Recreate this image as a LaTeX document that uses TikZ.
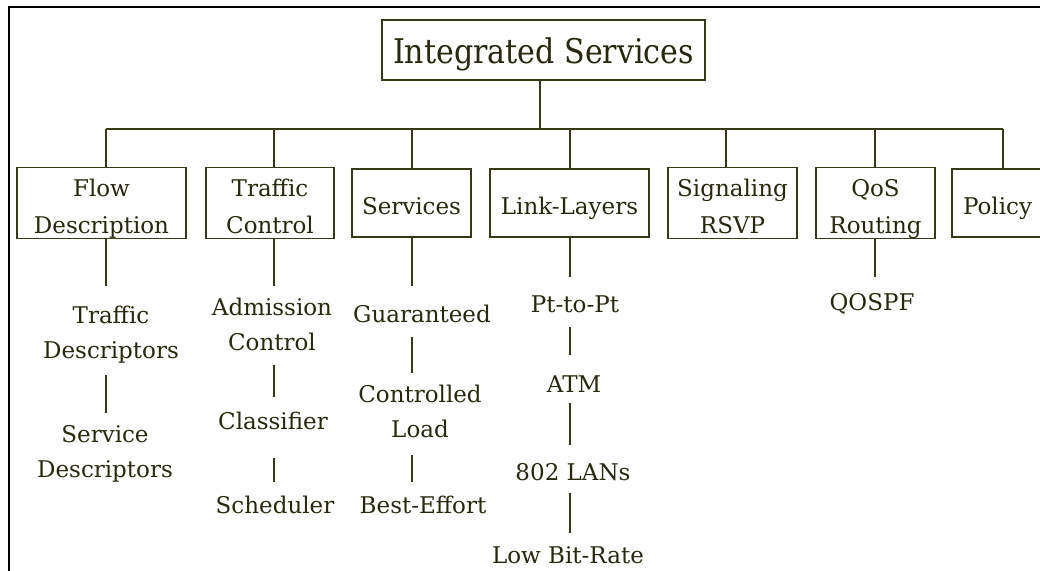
\documentclass[tikz,border=0pt]{standalone}
\usepackage{fontspec}
\setmainfont{DejaVu Serif}
\newfontfamily\titlefont[FakeStretch=0.885]{DejaVu Serif}
\definecolor{ink}{RGB}{40,40,15}
\definecolor{edgec}{RGB}{55,55,25}
% struts that fix the height/depth of text lines
\newcommand\linestrut{\rule[-5.5pt]{0pt}{23pt}}
\newcommand\boxstrut{\rule[-5.5pt]{0pt}{34pt}}

\begin{document}
\begin{tikzpicture}[x=1pt,y=-1pt,
  every node/.style={text=ink},
  topbox/.style={draw=edgec, line width=1.6pt, fill=white, inner sep=0pt,
    minimum width=323pt, minimum height=60pt,
    font=\titlefont\fontsize{34}{40}\selectfont, text height=26pt, text depth=0pt},
  catbox/.style={draw=edgec, line width=1.6pt, fill=white, inner sep=0pt,
    minimum height=68pt, align=center, font=\fontsize{23}{37}\selectfont},
  item/.style={anchor=north, inner sep=0pt, align=center,
    font=\fontsize{23}{35}\selectfont},
  link/.style={draw=edgec, line width=1.6pt},
]
\useasboundingbox (0,0) rectangle (1040,570);
\clip (0,0) rectangle (1040,570);

% frame
\draw[black, line width=2.5pt] (9,575) -- (9,7) -- (1045,7);

% root and the bus junctions
\coordinate (kroot) at (540,129);
\coordinate (kfd) at (106,129);
\coordinate (ktc) at (274,129);
\coordinate (ksv) at (412,129);
\coordinate (kll) at (570,129);
\coordinate (ksg) at (726,129);
\coordinate (kqr) at (875,129);
\coordinate (kpo) at (1003,129);

\node[topbox] (root) at (543.5,50) {Integrated Services};

% category boxes
\node[catbox, minimum width=169pt] (fd) at (101.5,203) {\boxstrut Flow\\Description\boxstrut};
\node[catbox, minimum width=128pt] (tc) at (270,203) {\boxstrut Traffic\\Control\boxstrut};
\node[catbox, minimum width=119pt] (sv) at (411.5,203) {\boxstrut Services};
\node[catbox, minimum width=159pt] (ll) at (569.5,203) {\boxstrut Link-Layers};
\node[catbox, minimum width=129pt] (sg) at (732.5,203) {\boxstrut Signaling\\RSVP\boxstrut};
\node[catbox, minimum width=119pt] (qr) at (875.5,203) {\boxstrut QoS\\Routing\boxstrut};
\node[catbox, minimum width=91pt] (po) at (997.5,203) {\boxstrut Policy};

% sub-items
\node[item] (td) at (111,305.5) {\linestrut Traffic\\Descriptors\linestrut};
\node[item] (sd) at (105,424.5) {\linestrut Service\\Descriptors\linestrut};
\node[item] (ac) at (272,297.5) {\linestrut Admission\\Control\linestrut};
\node[item] (cl) at (273,411.5) {\linestrut Classifier};
\node[item] (sc) at (275,495.5) {\linestrut Scheduler};
\node[item] (gu) at (422,304.5) {\linestrut Guaranteed};
\node[item] (cload) at (420,384.5) {\linestrut Controlled\\Load\linestrut};
\node[item] (be) at (423,495.5) {\linestrut Best-Effort};
\node[item] (pp) at (575,294.5) {\linestrut Pt-to-Pt};
\node[item] (atm) at (574,374.5) {\linestrut ATM};
\node[item] (lan) at (573,462.5) {\linestrut 802 LANs};
\node[item] (lbr) at (568,545.5) {\linestrut Low Bit-Rate};
\node[item] (qo) at (872,292.5) {\linestrut QOSPF};

% tree connectors
\draw[link] (root.south -| kroot) -- (kroot);
\draw[link] (kfd) -- (kpo);
\foreach \k/\b in {kfd/fd, ktc/tc, ksv/sv, kll/ll, ksg/sg, kqr/qr, kpo/po}
  \draw[link] (\k) -- (\k |- \b.north);

% Flow Description column
\draw[link, shorten >=19.5pt] (fd.south -| kfd) -- (td.north -| kfd);
\draw[link, shorten <=11.5pt, shorten >=11.5pt] (td.south -| kfd) -- (sd.north -| kfd);
% Traffic Control column
\draw[link, shorten >=11.5pt] (tc.south -| ktc) -- (ac.north -| ktc);
\draw[link, shorten <=9.5pt, shorten >=14.5pt] (ac.south -| ktc) -- (cl.north -| ktc);
\draw[link, shorten <=23.5pt, shorten >=13.5pt] (cl.south -| ktc) -- (sc.north -| ktc);
% Services column
\draw[link, shorten >=18.5pt] (sv.south -| ksv) -- (gu.north -| ksv);
\draw[link, shorten <=9.5pt, shorten >=11.5pt] (gu.south -| ksv) -- (cload.north -| ksv);
\draw[link, shorten <=12.5pt, shorten >=13.5pt] (cload.south -| ksv) -- (be.north -| ksv);
% Link-Layers column
\draw[link, shorten >=17.5pt] (ll.south -| kll) -- (pp.north -| kll);
\draw[link, shorten <=9.5pt, shorten >=19.5pt] (pp.south -| kll) -- (atm.north -| kll);
\draw[link, shorten <=5.5pt, shorten >=17.5pt] (atm.south -| kll) -- (lan.north -| kll);
\draw[link, shorten <=7.5pt, shorten >=12.5pt] (lan.south -| kll) -- (lbr.north -| kll);
% QoS Routing column
\draw[link, shorten >=15.5pt] (qr.south -| kqr) -- (qo.north -| kqr);
\end{tikzpicture}
\end{document}
